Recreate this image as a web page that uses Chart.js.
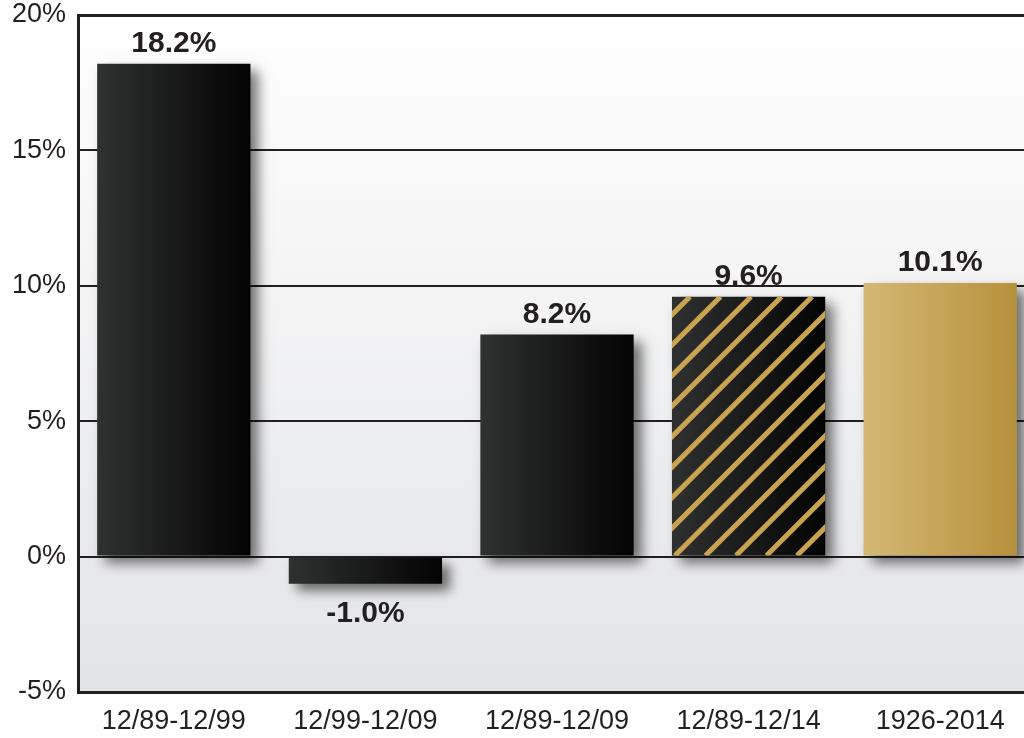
<!DOCTYPE html>
<html>
<head>
<meta charset="utf-8">
<script src="https://cdn.jsdelivr.net/npm/chart.js@4.4.1/dist/chart.umd.min.js"></script>
<style>
  html, body { margin: 0; padding: 0; background: #fff; overflow: hidden; }
  #wrap { width: 1036px; height: 738px; }
</style>
</head>
<body>
<div id="wrap"><canvas id="returns-chart"></canvas></div>
<script>
// Chart data
const periods = ['12/89-12/99', '12/99-12/09', '12/89-12/09', '12/89-12/14', '1926-2014'];
const returns = [18.2, -1.0, 8.2, 9.6, 10.1];
const yTicks = [-5, 0, 5, 10, 15, 20];

const textColor = '#231f20';
const fontFamily = '"Liberation Sans", Arial, Helvetica, sans-serif';

// horizontal gradient across one bar, built from the x scale
function barFill(context) {
    const chart = context.chart;
    const xScale = chart.scales.x;
    if (!chart.chartArea || !xScale) return '#1a1a1a';
    const center = xScale.getPixelForValue(context.dataIndex);
    const half = xScale.width / periods.length * 0.8 / 2;
    const g = chart.ctx.createLinearGradient(center - half, 0, center + half, 0);
    if (context.dataIndex === 4) {
        g.addColorStop(0, '#d4b874');
        g.addColorStop(1, '#b8913b');
    } else {
        g.addColorStop(0, '#2f3030');
        g.addColorStop(1, '#030303');
    }
    return g;
}

const plotBackground = {
    id: 'plotBackground',
    beforeDraw(chart) {
        const { ctx, chartArea: a } = chart;
        const g = ctx.createLinearGradient(0, a.top, 0, a.bottom);
        g.addColorStop(0, '#ffffff');
        g.addColorStop(1, '#e3e4e6');
        ctx.save();
        ctx.fillStyle = g;
        ctx.fillRect(a.left, a.top, a.right - a.left, a.bottom - a.top);
        ctx.restore();
    }
};

const barExtras = {
    id: 'barExtras',
    beforeDatasetsDraw(chart) {
        const ctx = chart.ctx;
        ctx.save();
        ctx.shadowColor = 'rgba(0,0,0,0.55)';
        ctx.shadowBlur = 12;
        ctx.shadowOffsetX = 8;
        ctx.shadowOffsetY = 7;
    },
    afterDatasetsDraw(chart) {
        const ctx = chart.ctx;
        ctx.restore();
        const meta = chart.getDatasetMeta(0);

        // gold stripes on the 12/89-12/14 bar
        const striped = meta.data[3];
        const s = striped.getProps(['x', 'y', 'base', 'width'], true);
        const left = s.x - s.width / 2;
        const top = Math.min(s.y, s.base);
        const h = Math.abs(s.base - s.y);
        ctx.save();
        ctx.beginPath();
        ctx.rect(left, top, s.width, h);
        ctx.clip();
        ctx.strokeStyle = '#c9a34f';
        ctx.lineWidth = 5;
        for (let k = 18 - 30.5; k < s.width + h + 30.5; k += 30.5) {
            ctx.beginPath();
            ctx.moveTo(left + k, top);
            ctx.lineTo(left + k - h, top + h);
            ctx.stroke();
        }
        ctx.restore();

        // value labels
        ctx.save();
        ctx.fillStyle = textColor;
        ctx.font = 'bold 30px ' + fontFamily;
        ctx.textAlign = 'center';
        meta.data.forEach((bar, i) => {
            const p = bar.getProps(['x', 'y'], true);
            const v = returns[i];
            if (v >= 0) {
                ctx.textBaseline = 'bottom';
                ctx.fillText(v.toFixed(1) + '%', p.x, p.y - 5);
            } else {
                ctx.textBaseline = 'top';
                ctx.fillText(v.toFixed(1) + '%', p.x, p.y + 15);
            }
        });
        ctx.restore();
    }
};

const config = {
    type: 'bar',
    data: {
        labels: periods,
        datasets: [
            {
                data: returns,
                backgroundColor: barFill,
                borderWidth: 0,
                categoryPercentage: 0.8,
                barPercentage: 1.0
            }
        ]
    },
    options: {
        responsive: true,
        maintainAspectRatio: false,
        animation: false,
        layout: { padding: { top: 15, right: 0, left: 0, bottom: 0 } },
        plugins: {
            legend: { display: false },
            tooltip: { enabled: false },
            title: { display: false }
        },
        scales: {
            x: {
                grid: { display: false, drawTicks: false },
                border: { display: false },
                ticks: {
                    color: textColor,
                    padding: 13,
                    font: { family: fontFamily, size: 27 },
                    maxRotation: 0
                },
                afterFit(scale) {
                    scale.height = 46;
                    scale.paddingLeft = 0;
                    scale.paddingRight = 0;
                }
            },
            y: {
                min: -5,
                max: 20,
                afterBuildTicks(scale) { scale.ticks = yTicks.map(v => ({ value: v })); },
                grid: {
                    color: textColor,
                    lineWidth: ctx => (ctx.tick && (ctx.tick.value === -5 || ctx.tick.value === 20)) ? 3 : 2,
                    drawTicks: false
                },
                border: { display: true, color: textColor, width: 3 },
                ticks: {
                    color: textColor,
                    padding: 12,
                    font: { family: fontFamily, size: 27 },
                    callback: v => v + '%'
                },
                afterFit(scale) {
                    scale.width = 78;
                    scale.paddingTop = 0;
                    scale.paddingBottom = 0;
                }
            }
        }
    },
    plugins: [plotBackground, barExtras]
};

new Chart(document.getElementById('returns-chart'), config);
</script>
</body>
</html>
